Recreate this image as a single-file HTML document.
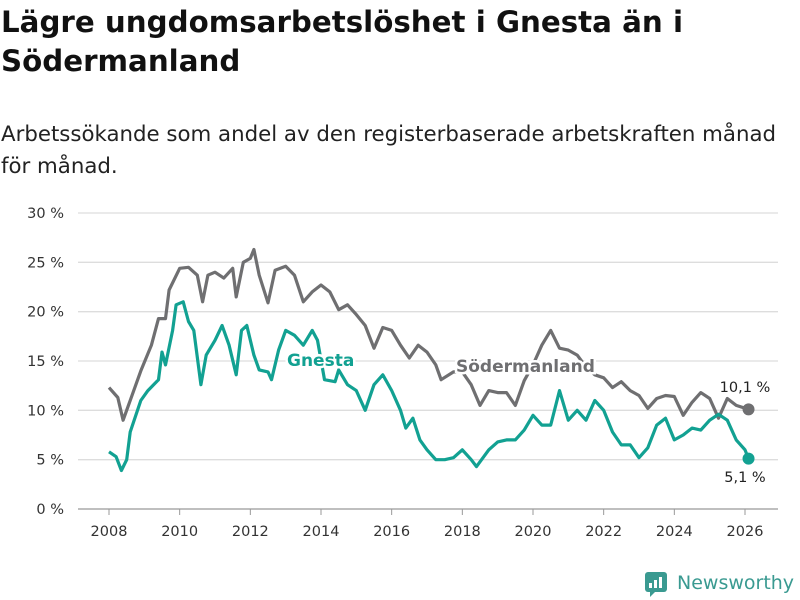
<!DOCTYPE html>
<html><head><meta charset="utf-8"><style>
body{margin:0;background:#fff;font-family:"DejaVu Sans","Liberation Sans",sans-serif;}
#wrap{position:relative;width:800px;height:600px;overflow:hidden;}
h1{position:absolute;left:1px;top:3px;margin:0;font-size:29.3px;line-height:39px;font-weight:bold;color:#111;width:760px;}
#sub{position:absolute;left:1px;top:119px;font-size:21.3px;line-height:32px;color:#222;width:792px;}
</style></head><body>
<div id="wrap">
<h1>Lägre ungdomsarbetslöshet i Gnesta än i Södermanland</h1>
<div id="sub">Arbetssökande som andel av den registerbaserade arbetskraften månad för månad.</div>
<svg id="svg" width="800" height="600" style="position:absolute;left:0;top:0"></svg>
</div>
<script>
const yTicks=[0,5,10,15,20,25,30];
const xTicks=[2008,2010,2012,2014,2016,2018,2020,2022,2024,2026];
const sodYears=[2008.0,2008.25,2008.4,2008.6,2008.9,2009.2,2009.4,2009.6,2009.7,2010.0,2010.25,2010.5,2010.65,2010.8,2011.0,2011.25,2011.5,2011.6,2011.8,2012.0,2012.1,2012.25,2012.5,2012.7,2013.0,2013.25,2013.5,2013.75,2014.0,2014.25,2014.5,2014.75,2015.0,2015.25,2015.5,2015.75,2016.0,2016.25,2016.5,2016.75,2017.0,2017.25,2017.4,2017.75,2018.0,2018.25,2018.5,2018.75,2019.0,2019.25,2019.5,2019.75,2020.0,2020.25,2020.5,2020.75,2021.0,2021.25,2021.5,2021.75,2022.0,2022.25,2022.5,2022.75,2023.0,2023.25,2023.5,2023.75,2024.0,2024.25,2024.5,2024.75,2025.0,2025.25,2025.5,2025.75,2026.1];
const sodValues=[12.3,11.3,9.0,11,14,16.6,19.3,19.3,22.2,24.4,24.5,23.7,21,23.7,24,23.4,24.4,21.5,25,25.4,26.3,23.7,20.9,24.2,24.6,23.7,21,22,22.7,22,20.2,20.7,19.7,18.6,16.3,18.4,18.1,16.6,15.3,16.6,15.9,14.6,13.1,13.9,13.9,12.6,10.5,12,11.8,11.8,10.5,13,14.6,16.6,18.1,16.3,16.1,15.6,14.4,13.6,13.3,12.3,12.9,12,11.5,10.2,11.2,11.5,11.4,9.5,10.8,11.8,11.2,9.2,11.2,10.5,10.1];
const gnYears=[2008.0,2008.2,2008.35,2008.5,2008.6,2008.9,2009.1,2009.4,2009.5,2009.6,2009.8,2009.9,2010.1,2010.25,2010.4,2010.6,2010.75,2011.0,2011.2,2011.4,2011.6,2011.75,2011.9,2012.1,2012.25,2012.5,2012.6,2012.8,2013.0,2013.25,2013.5,2013.75,2013.9,2014.1,2014.4,2014.5,2014.75,2015.0,2015.25,2015.5,2015.75,2016.0,2016.25,2016.4,2016.6,2016.8,2017.0,2017.25,2017.5,2017.75,2018.0,2018.25,2018.4,2018.75,2019.0,2019.25,2019.5,2019.75,2020.0,2020.25,2020.5,2020.75,2021.0,2021.25,2021.5,2021.75,2022.0,2022.25,2022.5,2022.75,2023.0,2023.25,2023.5,2023.75,2024.0,2024.25,2024.5,2024.75,2025.0,2025.25,2025.5,2025.75,2026.0,2026.1];
const gnValues=[5.8,5.3,3.9,5,7.8,11,12,13.1,15.9,14.6,18.1,20.7,21,19,18.1,12.6,15.6,17.1,18.6,16.6,13.6,18.1,18.6,15.6,14.1,13.9,13.1,16.1,18.1,17.6,16.6,18.1,17.1,13.1,12.9,14.1,12.6,12,10,12.6,13.6,12,10,8.2,9.2,7,6,5,5,5.2,6,5,4.3,6,6.8,7,7,8,9.5,8.5,8.5,12,9,10,9,11,10,7.8,6.5,6.5,5.2,6.2,8.5,9.2,7,7.5,8.2,8,9,9.6,9,7,6,5.1];
const NS="http://www.w3.org/2000/svg";
const svg=document.getElementById('svg');
const X=y=>109+(y-2008)*(745-109)/18;
const Y=v=>509-v*(509-213)/30;
function mk(t,a){const e=document.createElementNS(NS,t);for(const k in a)e.setAttribute(k,a[k]);svg.appendChild(e);return e;}
yTicks.forEach(v=>{
 const l=mk('line',{x1:78,x2:778,y1:Y(v),y2:Y(v),stroke:v===0?'#999':'#ddd','stroke-width':1.3});
 
 
 const t=mk('text',{x:64,y:Y(v)+5,'text-anchor':'end','font-size':14.5,fill:'#333'});
 t.textContent=v+' %';
 
 
});
xTicks.forEach(v=>{
 const l=mk('line',{x1:X(v),x2:X(v),y1:509,y2:515,stroke:'#999'});
 
 
 const t=mk('text',{x:X(v),y:536,'text-anchor':'middle','font-size':14.5,fill:'#333'});
 t.textContent=v;
 
 
});
function line(ys,vs,c,n){
 const d=ys.map((y,i)=>(i?'L':'M')+X(y).toFixed(1)+','+Y(vs[i]).toFixed(1)).join('');
 const p=mk('path',{d:d,fill:'none',stroke:c,'stroke-width':3.2,'stroke-linejoin':'round'});
 
 
 const c2=mk('circle',{cx:X(ys[ys.length-1]),cy:Y(vs[vs.length-1]),r:6,fill:c});
 
 
}
line(sodYears,sodValues,'#6f6f71','sodermanland');
line(gnYears,gnValues,'#12a192','gnesta');
function lab(x,y,txt,c,n,bold,anchor){
 const t=mk('text',{x:x,y:y,'font-size':bold?17:14.5,'font-weight':bold?'bold':'normal',fill:c,stroke:'#fff','stroke-width':bold?5:4,'paint-order':'stroke','text-anchor':anchor||'start'});
 t.textContent=txt;
 
 
}
lab(287,366,'Gnesta','#12a192','gnesta-label',true);
lab(456,372,'Södermanland','#6f6f71','sodermanland-label',true);
lab(745,392,'10,1 %','#222','sodermanland-end-value',false,'middle');
lab(745,482,'5,1 %','#222','gnesta-end-value',false,'middle');
const g=mk('g',{});


g.innerHTML='<rect x="645" y="572" width="22" height="20" rx="3" fill="#3a9a91"/><polygon points="650,591 656,591 650,597" fill="#3a9a91"/><rect x="649" y="583" width="3" height="5" fill="#fff"/><rect x="654" y="580" width="3" height="8" fill="#fff"/><rect x="659" y="577" width="3" height="11" fill="#fff"/><text x="677" y="589" font-size="19" fill="#3a9a91">Newsworthy</text>';
</script>
</body></html>
